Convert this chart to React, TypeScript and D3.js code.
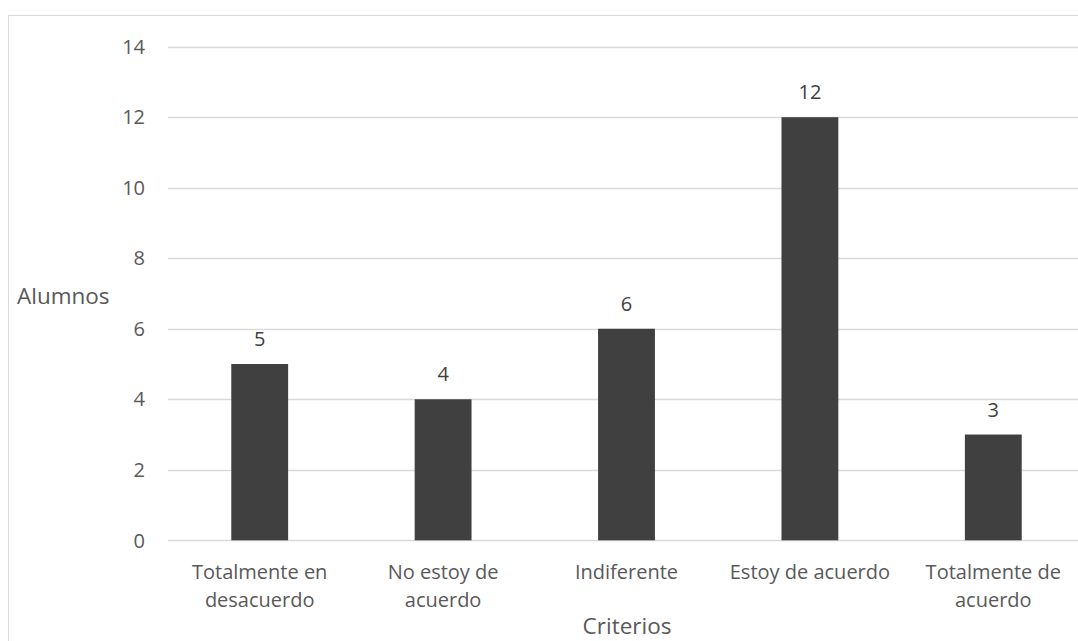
import { useEffect, useRef } from 'react';
import * as d3 from 'd3';

const categories = [
  'Totalmente en desacuerdo',
  'No estoy de acuerdo',
  'Indiferente',
  'Estoy de acuerdo',
  'Totalmente de acuerdo',
];
// label lines as Excel wraps them
const categoryLines = [
  ['Totalmente en', 'desacuerdo'],
  ['No estoy de', 'acuerdo'],
  ['Indiferente'],
  ['Estoy de acuerdo'],
  ['Totalmente de', 'acuerdo'],
];
const values = [5, 4, 6, 12, 3];
const yTicks = [0, 2, 4, 6, 8, 10, 12, 14];

const FONT = '"Open Sans", "Noto Sans", sans-serif';

export default function App() {
  const svgRef = useRef<SVGSVGElement>(null);

  useEffect(() => {
    if (!svgRef.current) return;
    const width = 1078;
    const height = 641;

    d3.select(svgRef.current).selectAll('*').remove();
    const svg = d3.select(svgRef.current)
      .attr('width', width)
      .attr('height', height);

    // Chart frame (runs off the right and bottom edges)
    svg.append('rect')
      .attr('x', 8.5)
      .attr('y', 15.5)
      .attr('width', 1200)
      .attr('height', 800)
      .attr('fill', 'white')
      .attr('stroke', '#d9d9d9')
      .attr('stroke-width', 1);

    const xScale = d3.scaleBand<string>()
      .domain(categories)
      .range([168, 1085])
      .paddingInner(0.69)
      .paddingOuter(0.345);

    const yScale = d3.scaleLinear()
      .domain([0, 14])
      .range([540.3, 46.7]);

    // Gridlines
    svg.append('g')
      .selectAll('line')
      .data(yTicks)
      .join('line')
      .attr('x1', 168)
      .attr('x2', 1085)
      .attr('y1', d => Math.round(yScale(d)) + 0.5)
      .attr('y2', d => Math.round(yScale(d)) + 0.5)
      .attr('stroke', '#d9d9d9')
      .attr('stroke-width', 1.5);

    // Y tick labels
    svg.append('g')
      .selectAll('text')
      .data(yTicks)
      .join('text')
      .attr('x', 145)
      .attr('y', d => yScale(d))
      .attr('dy', '0.36em')
      .attr('text-anchor', 'end')
      .style('font-family', FONT)
      .style('font-size', '20px')
      .style('fill', '#595959')
      .text(d => d);

    // Bars
    svg.append('g')
      .selectAll('rect')
      .data(values)
      .join('rect')
      .attr('x', (d, i) => xScale(categories[i])!)
      .attr('y', d => yScale(d))
      .attr('width', xScale.bandwidth())
      .attr('height', d => yScale(0) - yScale(d))
      .attr('fill', '#404040');

    // Data labels
    svg.append('g')
      .selectAll('text')
      .data(values)
      .join('text')
      .attr('x', (d, i) => xScale(categories[i])! + xScale.bandwidth() / 2)
      .attr('y', d => yScale(d) - 18)
      .attr('text-anchor', 'middle')
      .style('font-family', FONT)
      .style('font-size', '20px')
      .style('fill', '#404040')
      .text(d => d);

    // Category labels
    const catG = svg.append('g');
    categoryLines.forEach((lines, i) => {
      const cx = xScale(categories[i])! + xScale.bandwidth() / 2;
      const t = catG.append('text')
        .attr('text-anchor', 'middle')
        .style('font-family', FONT)
        .style('font-size', '20px')
        .style('fill', '#595959');
      lines.forEach((line, j) => {
        t.append('tspan')
          .attr('x', cx)
          .attr('y', 579 + j * 28)
          .text(line);
      });
    });

    // Axis titles
    svg.append('text')
      .attr('x', 17)
      .attr('y', 304)
      .style('font-family', FONT)
      .style('font-size', '22.5px')
      .style('fill', '#595959')
      .text('Alumnos');

    svg.append('text')
      .attr('x', 627)
      .attr('y', 634)
      .attr('text-anchor', 'middle')
      .style('font-family', FONT)
      .style('font-size', '22.5px')
      .style('fill', '#595959')
      .text('Criterios');
  }, []);

  return (
    <div style={{ position: 'absolute', left: 0, top: 0, width: 1078, height: 641, overflow: 'hidden' }}>
      <svg ref={svgRef} style={{ display: 'block' }}></svg>
    </div>
  );
}
